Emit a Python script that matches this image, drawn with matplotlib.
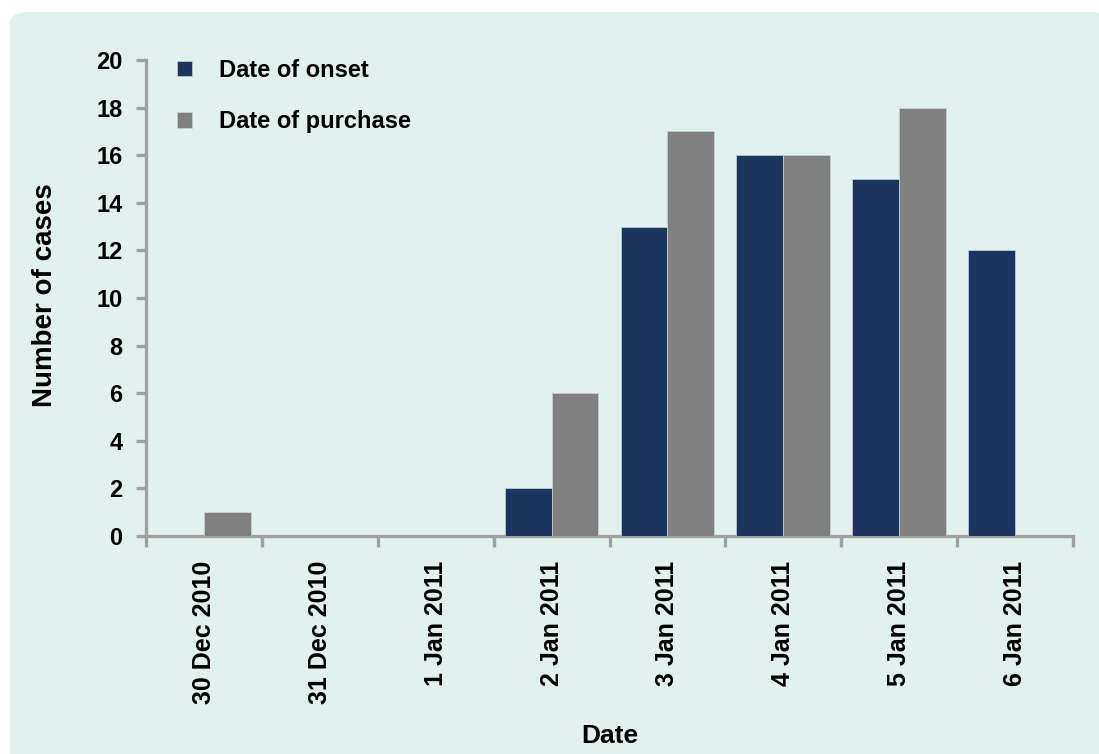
import matplotlib
matplotlib.use("Agg")
import matplotlib.pyplot as plt
from matplotlib.patches import FancyBboxPatch
import numpy as np

categories = ["30 Dec 2010", "31 Dec 2010", "1 Jan 2011", "2 Jan 2011",
              "3 Jan 2011", "4 Jan 2011", "5 Jan 2011", "6 Jan 2011"]
onset = [0, 0, 0, 2, 13, 16, 15, 12]
purchase = [1, 0, 0, 6, 17, 16, 18, 0]
yticks = [0, 2, 4, 6, 8, 10, 12, 14, 16, 18, 20]

plt.rcParams['font.family'] = ['Liberation Sans', 'DejaVu Sans']
plt.rcParams['font.weight'] = 'bold'

W, H = 1099, 754
fig = plt.figure(figsize=(W / 100, H / 100), dpi=100)
fig.patch.set_facecolor('white')

bg = FancyBboxPatch((10 / W, -0.05), 1.0, 1 - 12 / H + 0.05,
                    boxstyle="round,pad=0,rounding_size=0.016",
                    transform=fig.transFigure, facecolor='#e2f1ee',
                    edgecolor='none', zorder=-10)
fig.patches.append(bg)

ax = fig.add_axes([146 / W, 1 - 536 / H, (1073 - 146) / W, (536 - 60) / H])
ax.set_facecolor('none')

x = np.arange(len(categories))
w = 0.405
navy = '#1c355e'
grey = '#808080'
b1 = ax.bar(x - w / 2, onset, w, color=navy, edgecolor='#c8d4d6', linewidth=0.5,
            label='Date of onset', zorder=3)
b2 = ax.bar(x + w / 2, purchase, w, color=grey, edgecolor='#c8d4d6', linewidth=0.5,
            label='Date of purchase', zorder=3)

ax.set_xlim(-0.5, len(categories) - 0.5)
ax.set_ylim(0, 20)

spine_c = '#a0a0a0'
for s in ['top', 'right']:
    ax.spines[s].set_visible(False)
for s in ['left', 'bottom']:
    ax.spines[s].set_color(spine_c)
    ax.spines[s].set_linewidth(2.4)

ax.set_yticks(yticks)
ax.set_yticklabels([str(v) for v in yticks], fontsize=17, fontweight='bold')
ax.tick_params(axis='y', direction='out', length=7, width=2.4, color=spine_c, pad=10)

ax.set_xticks(x)
ax.set_xticklabels(categories, rotation=90, fontsize=18, fontweight='bold',
                   va='top', ha='center')
ax.tick_params(axis='x', which='major', length=0, pad=18)
ax.set_xticks(np.arange(-0.5, len(categories)), minor=True)
ax.tick_params(axis='x', which='minor', direction='out', length=8, width=2.4, color=spine_c)

ax.set_ylabel('Number of cases', fontsize=20, fontweight='bold')
ax.yaxis.set_label_coords(-0.0946, 0.505)
ax.set_xlabel('Date', fontsize=19, fontweight='bold')
ax.xaxis.set_label_coords(0.5, -0.395)

leg = ax.legend(handles=[b1, b2], loc='upper left', bbox_to_anchor=(0.0103, 1.047),
                frameon=False, handlelength=0.64, handleheight=0.64,
                handletextpad=1.15, labelspacing=1.2, prop={'weight': 'bold', 'size': 17})

fig.savefig('out.png', dpi=100, facecolor=fig.get_facecolor())
